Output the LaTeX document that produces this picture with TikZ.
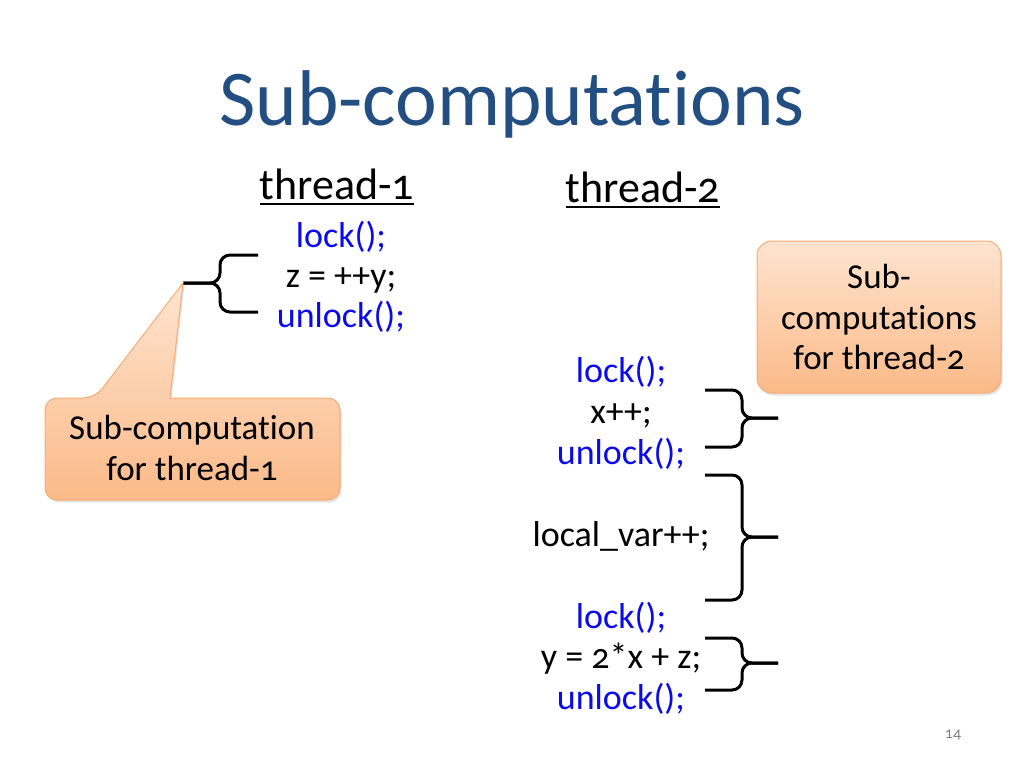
\documentclass[tikz,border=0pt]{standalone}
\usepackage{fontspec}
\setmainfont{Carlito}[Numbers=OldStyle, Ligatures=NoCommon]
\usetikzlibrary{shadows}

\definecolor{titleblue}{RGB}{34,78,130}
\definecolor{codeblue}{RGB}{10,10,235}
\definecolor{calltop}{RGB}{255,228,208}
\definecolor{callbot}{RGB}{250,186,136}
\definecolor{calledge}{RGB}{245,172,118}

\tikzset{
  code/.style={anchor=base, inner sep=0pt, font=\fontsize{36}{40}\selectfont},
  lockline/.style={code, text=codeblue},
  thread/.style={anchor=base, inner sep=0pt, font=\fontsize{44}{48}\selectfont},
  calltext/.style={align=center, font=\fontsize{35}{40.5}\selectfont},
  callbox/.style={draw=calledge, line width=1pt, top color=calltop, bottom color=callbot,
    drop shadow={opacity=0.2, shadow xshift=1.5pt, shadow yshift=-2.5pt}},
  bracket/.style={line width=3pt, rounded corners=10pt},
}

\begin{document}
\begin{tikzpicture}[x=1pt,y=-1pt]
	\useasboundingbox (0,0) rectangle (1024,768);
	
	\node[anchor=base, text=titleblue, font=\fontsize{79}{90}\selectfont] (title) at (512,125) {Sub-computations};
	\node[thread] (t1) at (337,199) {thread-1};
	\node[thread] (t2) at (643,202) {thread-2};
	\draw[line width=2pt] ([yshift=-5pt]t1.base west) -- ([yshift=-5pt]t1.base east);
	\draw[line width=2pt] ([yshift=-5pt]t2.base west) -- ([yshift=-5pt]t2.base east);
	
	% thread-1
	\node[lockline] (lockA) at (341,247) {lock();};
	\node[code] (incA) at (341,287) {z = ++y;};
	\node[lockline] (unlockA) at (341,327) {unlock();};
	
	% thread-2
	\node[lockline] (lockB) at (621,382) {lock();};
	\node[code] (incB) at (621,423) {x++;};
	\node[lockline] (unlockB) at (621,464) {unlock();};
	\node[code] (local) at (621,546) {local\_var++;};
	\node[lockline] (lockC) at (621,628) {lock();};
	\node[code] (incC) at (621,668) {y = 2*x + z;};
	\node[lockline] (unlockC) at (621,709) {unlock();};
	
	% braces
	\coordinate (tipA) at (183,283);
	\draw[bracket] (258,255) -- (220,255) -- (220,283) -- (tipA);
	\draw[bracket] (258,312) -- (220,312) -- (220,283) -- (tipA);
	\foreach \i/\top/\bot/\mid in {1/390/447/418, 2/475/600/537, 3/638/690/663} {
		\coordinate (tip\i) at (778,\mid);
		\draw[bracket] (705,\top) -- (742,\top) -- (742,\mid) -- (tip\i);
		\draw[bracket] (705,\bot) -- (742,\bot) -- (742,\mid) -- (tip\i);
	}
	
	% callouts
	\shade[callbox] (45,448) [rounded corners=12pt] -- (45,398) -- (95,398) [sharp corners] -- (tipA)
		-- (170,398) [rounded corners=12pt] -- (340,398) -- (340,500) -- (45,500) -- cycle;
	\node[calltext] (callA) at (192,448) {Sub-computation\\for thread-1};
	\node[callbox, calltext, rounded corners=15pt, minimum width=244pt, minimum height=152pt] (callB) at (879,317) {Sub-\\computations\\for thread-2};
	
	\node[anchor=base, text=gray, font=\fontsize{16}{18}\selectfont] (page) at (953,738) {14};
\end{tikzpicture}
\end{document}
